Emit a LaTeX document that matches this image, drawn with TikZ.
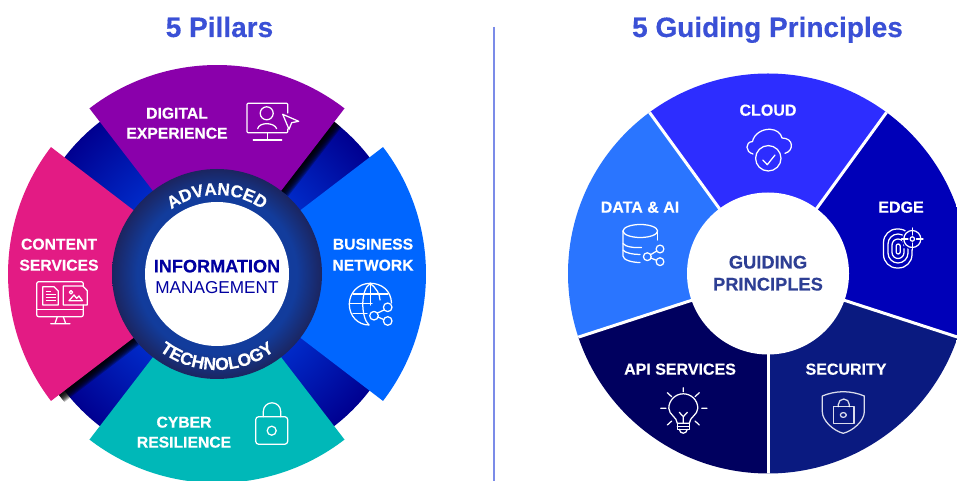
\documentclass[tikz,border=0pt]{standalone}
\usepackage{fontspec}
\setmainfont{Liberation Sans}[BoldFeatures={FakeBold=0.35}]
\usetikzlibrary{calc,decorations.text}
\definecolor{cdigital}{HTML}{8A00AB}
\definecolor{ccontent}{HTML}{E31B84}
\definecolor{cbusiness}{HTML}{0066FF}
\definecolor{ccyber}{HTML}{00B8B8}
\definecolor{backout}{HTML}{000090}
\definecolor{backin}{HTML}{0029C7}
\definecolor{ringin}{HTML}{123C9C}
\definecolor{ringout}{HTML}{1B2560}
\definecolor{ctitle}{HTML}{3A50D6}
\definecolor{cdivider}{HTML}{7B8BE8}
\definecolor{cinfo}{HTML}{0000A0}
\definecolor{cguide}{HTML}{2E3F94}
\definecolor{ccloud}{HTML}{2D2DFF}
\definecolor{cedge}{HTML}{0000B8}
\definecolor{csec}{HTML}{0A1A80}
\definecolor{capi}{HTML}{00005F}
\definecolor{cdata}{HTML}{2A75FF}
\pgfdeclareradialshading{backring}{\pgfpointorigin}{color(0bp)=(backin);color(13.7bp)=(backin);color(25bp)=(backout);color(50bp)=(backout)}
\pgfdeclareradialshading{midring}{\pgfpointorigin}{color(0bp)=(ringin);color(19bp)=(ringin);color(25bp)=(ringout);color(50bp)=(ringout)}
\tikzset{
  lbl/.style={anchor=base,inner sep=0pt,align=center},
  ico/.style={draw=white,line width=1.25pt,line cap=round,line join=round},
}
\newcommand\sect[5]{\fill[#5] #1 ++(#2:#4pt) arc[start angle=#2,end angle=#3,radius=#4pt] -- #1 -- cycle;}
\begin{document}
\begin{tikzpicture}[x=1pt,y=1pt]
\path[use as bounding box] (0,0) rectangle (957,481);
\clip (0,0) rectangle (957,481);
\fill[white] (0,0) rectangle (957,481);
\coordinate (L) at (217,207);
\coordinate (R) at (768,207.5);
\coordinate (S) at (768,205.5);
% divider
\draw[cdivider,line width=1.6pt] (494,454) -- (494,0);
% ---- left wheel
\shade[shading=backring] (L) circle[radius=192pt];
\begin{scope}[shift={(L)},rotate=52.4]
  \foreach \w in {1,2,...,9} \fill[black,opacity=.26] (105,0) rectangle (192,-\w);
\end{scope}
\begin{scope}[shift={(L)},rotate=217.4]
  \foreach \w in {1,2,...,9} \fill[black,opacity=.26] (105,0) rectangle (199,\w);
\end{scope}
\sect{(L)}{52.4}{127.6}{209}{cdigital}
\sect{(L)}{142.6}{217.4}{209}{ccontent}
\sect{(L)}{-37.4}{37.4}{209}{cbusiness}
\sect{(L)}{232.4}{307.6}{209}{ccyber}
\shade[shading=midring] (L) circle[radius=105pt];
\fill[white] (L) circle[radius=72pt];
\path[decorate,decoration={text along path,text align=center,text color=white,
  text={|\fontsize{17.2}{17.2}\selectfont\bfseries|ADVANCED}}]
  (L) ++(130:79pt) arc[start angle=130,end angle=50,radius=79pt];
\path[decorate,decoration={text along path,text align=center,text color=white,
  text={|\fontsize{17.5}{17.5}\selectfont\bfseries|TECHNOLOGY}}]
  (L) ++(225:96pt) arc[start angle=225,end angle=315,radius=96pt];
% ---- right wheel
\begin{scope}
\clip (R) circle[radius=200pt];
\sect{(S)}{54}{126}{215}{ccloud}
\sect{(S)}{126}{198}{215}{cdata}
\sect{(S)}{198}{270}{215}{capi}
\sect{(S)}{270}{342}{215}{csec}
\sect{(S)}{342}{414}{215}{cedge}
\foreach \a in {54,126,198,270,342} \draw[white,line width=3pt] (S) -- ++(\a:215pt);
\end{scope}
\fill[white] (R) circle[radius=81pt];
% ---- texts
\node[lbl,text=ctitle,font=\fontsize{28}{28}\selectfont\bfseries] (t1) at (219.5,{481-27-10}) {5 Pillars};
\node[lbl,text=ctitle,font=\fontsize{28}{28}\selectfont\bfseries] (t2) at (767.5,{481-27-10}) {5 Guiding Principles};
\tikzset{w/.style={lbl,text=white,font=\fontsize{15.7}{15.7}\selectfont\bfseries}}
\node[w] (a1) at (177,{481-113-5.6}) {DIGITAL};
\node[w] (a2) at (177,{481-133-5.6}) {EXPERIENCE};
\node[w] (b1) at (59,{481-244-5.6}) {CONTENT};
\node[w] (b2) at (59,{481-265-5.6}) {SERVICES};
\node[w] (c1) at (373,{481-244-5.6}) {BUSINESS};
\node[w] (c2) at (373,{481-265-5.6}) {NETWORK};
\node[w] (d1) at (184,{481-422-5.6}) {CYBER};
\node[w] (d2) at (184,{481-442-5.6}) {RESILIENCE};
\node[lbl,text=cinfo,font=\fontsize{18.1}{18.1}\selectfont\bfseries] (i1) at (217,{481-266-6.4}) {INFORMATION};
\node[lbl,text=cinfo,font=\fontsize{17.2}{17.2}\selectfont] (i2) at (217,{481-287-6.2}) {MANAGEMENT};
\node[lbl,text=cguide,font=\fontsize{18.3}{18.3}\selectfont\bfseries] (g1) at (768,{481-262-6.5}) {GUIDING};
\node[lbl,text=cguide,font=\fontsize{18.3}{18.3}\selectfont\bfseries] (g2) at (768,{481-284-6.5}) {PRINCIPLES};
\tikzset{v/.style={lbl,text=white,font=\fontsize{16}{16}\selectfont\bfseries}}
\node[v] (e1) at (768,{481-110-5.7}) {CLOUD};
\node[v] (e2) at (640,{481-207-5.7}) {DATA \& AI};
\node[v] (e3) at (901,{481-207-5.7}) {EDGE};
\node[v] (e4) at (680,{481-369-5.7}) {API SERVICES};
\node[v] (e5) at (846,{481-369-5.7}) {SECURITY};
% ---- icons, in image pixel coordinates
\begin{scope}[yshift=481pt,yscale=-1]
 % digital
 \draw[ico,rounded corners=1pt] (287.7,113) -- (287.7,103.3) -- (247,103.3) -- (247,132.7) -- (287.7,132.7) -- (287.7,129);
 \draw[ico] (266.7,113.3) circle[radius=6.5pt];
 \draw[ico] (257.7,128.7) .. controls (259,122) and (274,122) .. (276.7,128.7);
 \draw[ico] (267.7,132.7) -- (267.7,140) (253.3,140) -- (281.7,140);
 \draw[ico] (282.7,114.3) -- (298.7,121.3) -- (291.7,122.7) -- (289,129.3) -- cycle;
 % content
 \draw[ico,rounded corners=2pt] (36.7,309.3) -- (36.7,281.7) -- (83.3,281.7) -- (83.3,286);
 \draw[ico,rounded corners=2pt] (36.7,309) -- (36.7,316.7) -- (83.3,316.7) -- (83.3,305);
 \draw[ico] (36.7,309.3) -- (83.3,309.3);
 \draw[ico] (57.3,316.7) -- (55,323.7) (63.3,316.7) -- (65.7,323.7) (50.7,323.7) -- (70,323.7);
 \draw[ico] (42.7,286.7) -- (54,286.7) -- (58.3,291) -- (58.3,305) -- (42.7,305) -- cycle;
 \draw[white,line width=1.1pt] (45.5,291.5) -- (51,291.5) (45.5,294.5) -- (55.5,294.5) (45.5,297.5) -- (55.5,297.5) (45.5,300.5) -- (55.5,300.5);
 \draw[ico] (63.3,286) -- (82.7,286) -- (87.3,290.7) -- (87.3,305) -- (63.3,305) -- cycle;
 \draw[ico] (71,292.3) circle[radius=1.7pt];
 \draw[ico] (69,300.7) -- (74,295) -- (76.7,298.3) -- (79,296) -- (82.3,300.7) -- cycle;
 % business
 \draw[ico] (391.5,303) .. controls (391,290) and (381,283.3) .. (370.3,283.3)
    .. controls (358,283.3) and (349.3,293) .. (349.3,304.3)
    .. controls (349.3,316) and (358,325) .. (369,325);
 \draw[ico] (370.3,283.3) .. controls (360,290) and (361,318) .. (369,325);
 \draw[ico] (370.3,283.3) .. controls (376,288) and (380,294) .. (380,300);
 \draw[ico] (370.3,283.3) -- (370.3,305);
 \draw[ico] (353,294) -- (388,294) (349.3,303.5) -- (372,303.5) (353,313.5) -- (367,313.5);
 \draw[ico] (387.7,307.3) circle[radius=4.3pt] (374,315.7) circle[radius=4.3pt] (387.7,321) circle[radius=4.3pt];
 \draw[ico] (377.5,313) -- (384,310) (378,317) -- (383.5,319.5);
 % cyber
 \draw[ico] (255.7,419.7) arc[start angle=180,end angle=270,radius=3pt] -- (284.7,416.7) arc[start angle=270,end angle=360,radius=3pt] -- (287.7,441.3) arc[start angle=0,end angle=90,radius=3pt] -- (258.7,444.3) arc[start angle=90,end angle=180,radius=3pt] -- cycle;
 \draw[ico] (263.3,416.7) -- (263.3,411.5) arc[start angle=180,end angle=360,radius=8.7pt] -- (280.7,416.7);
 \draw[ico] (271.7,430.7) circle[radius=4.5pt];
 % cloud
 \draw[ico] (753,154) .. controls (745,152) and (745,142) .. (752.5,141.5)
   .. controls (754,134) and (762,129) .. (770,129.3)
   .. controls (776,129.5) and (781,133) .. (782,138)
   .. controls (794,138) and (794,151) .. (785,153.3);
 \fill[ccloud] (768.3,158.3) circle[radius=13pt];
 \draw[ico] (768.3,158.3) circle[radius=12.7pt];
 \draw[ico] (762.7,160) -- (767.3,164.7) -- (775,155);
 % data
 \draw[ico] (640.3,231) ellipse[x radius=17.3pt,y radius=6.5pt];
 \draw[ico] (623,231) -- (623,256) .. controls (623,260) and (632,262.5) .. (640,262.5);
 \draw[ico] (657.6,231) -- (657.6,240);
 \draw[ico] (623,243.5) .. controls (625,247) and (635,248) .. (641.5,247.5);
 \draw[ico] (623,250) .. controls (625,253) and (633,254.5) .. (640,254.5);
 \draw[ico] (660,249) circle[radius=3.9pt] (647.3,256.7) circle[radius=3.9pt] (660,261.7) circle[radius=3.9pt];
 \draw[ico] (650.6,254.7) -- (656.7,251) (650.8,258) -- (656.4,260.3);
 % edge
 \draw[ico,rounded corners=13.5pt,dash pattern=on 70pt off 4pt] (883.5,229) rectangle (912,268);
 \draw[ico,rounded corners=10pt,dash pattern=on 48pt off 3pt on 30pt off 3pt] (888,234) rectangle (908,263);
 \draw[ico,rounded corners=6pt,dash pattern=on 30pt off 3pt] (892,239) rectangle (904,258.5);
 \draw[ico,rounded corners=2pt] (896.2,244) rectangle (900.2,254);
 \fill[cedge] (912.3,239) circle[radius=10.5pt];
 \draw[ico] (912.3,239) circle[radius=8.5pt] (912.3,239) circle[radius=2.2pt];
 \draw[ico] (912.3,228) -- (912.3,235) (912.3,243) -- (912.3,250) (901.5,239) -- (908,239) (916.5,239) -- (923,239);
 % api
 \draw[ico] (677.3,423.3) .. controls (677,417) and (669,415) .. (668.8,408.3)
   arc[start angle=180,end angle=360,radius=14.5pt]
   .. controls (697.6,415) and (689.6,417) .. (689.3,423.3) -- cycle;
 \draw[ico] (683.3,423.3) -- (683.3,416.7) -- (679.3,412.3) (683.3,416.7) -- (687.3,412.3);
 \draw[ico] (677.3,423.3) -- (677.3,429.3) -- (689.3,429.3) -- (689.3,423.3);
 \draw[ico] (677.3,426.3) -- (689.3,426.3);
 \draw[ico] (679.3,429.3) .. controls (680,434.5) and (686.5,434.5) .. (687.3,429.3);
 \draw[ico] (683.3,387.7) -- (683.3,391.7) (667.3,392.7) -- (671.7,396.7) (699.3,392.7) -- (695,396.7)
   (660.7,408.3) -- (666,408.3) (701.7,408.3) -- (707,408.3) (667.3,425) -- (671.7,421) (699.3,425) -- (695,421);
 % security
 \begin{scope}[opacity=.85]
 \draw[ico] (843.3,391.7) .. controls (836,391.7) and (828,393.5) .. (822.3,396) -- (822.3,411.7)
   .. controls (822.3,421) and (834,431) .. (843.3,433.3)
   .. controls (852.6,431) and (864.3,421) .. (864.3,411.7) -- (864.3,396)
   .. controls (858.6,393.5) and (850.6,391.7) .. (843.3,391.7);
 \draw[ico] (833.3,406.7) rectangle (854,423.3);
 \draw[ico] (838.3,406.7) -- (838.3,404.5) arc[start angle=180,end angle=360,radius=5.5pt] -- (849.3,406.7);
 \draw[ico] (843.3,415) ellipse[x radius=3pt,y radius=2.4pt];
 \end{scope}
\end{scope}
\end{tikzpicture}
\end{document}
